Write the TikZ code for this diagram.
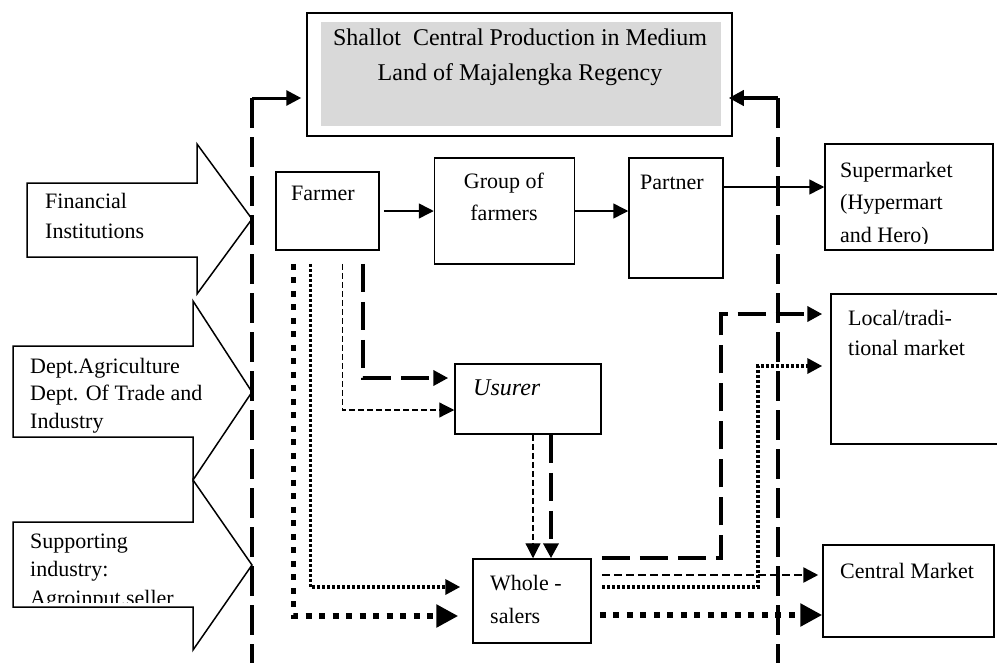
\documentclass[tikz,border=0pt]{standalone}
\usepackage{fontspec}
\setmainfont{Liberation Serif}
\usetikzlibrary{arrows.meta,positioning,calc}

\begin{document}
\begin{tikzpicture}[x=1pt, y=-1pt, font=\fontsize{22}{30}\selectfont, >={Triangle[length=15pt,width=15pt]}]
\tikzstyle{box}=[draw, line width=1.5pt, inner sep=0pt]
\tikzstyle{txt}=[inner sep=0pt, anchor=base west, align=left]
\tikzstyle{bound}=[line width=4pt, dash pattern=on 30pt off 9pt]
\tikzstyle{bigdash}=[line width=4pt, dash pattern=on 28pt off 10pt]
\tikzstyle{thindash}=[line width=1.2pt, dash pattern=on 6pt off 3pt]
\tikzstyle{meddash}=[line width=2.5pt, dash pattern=on 8pt off 4pt]
\tikzstyle{sqdot}=[line width=3.5pt, dash pattern=on 3pt off 2pt]
\tikzstyle{rnddot}=[line width=5.5pt, dash pattern=on 6pt off 7.5pt]
\tikzstyle{bigarrow}=[-{Triangle[length=22pt,width=22pt]}]
\useasboundingbox (0,0) rectangle (997,662);

% top box
\node[box, minimum width=425pt, minimum height=123pt] (prod) at (519.5,74.5) {};
\fill[black!15] ($(prod.north west)+(15,10)$) rectangle ($(prod.south east)+(-12,-11)$);
\node[txt, anchor=base, align=center, font=\fontsize{24}{35}\selectfont] (prodtxt) at (520,80) {Shallot\ \ Central Production in Medium\\Land of Majalengka Regency};

% actors
\node[box, minimum width=103pt, minimum height=78pt] (farmer) at (327.5,211) {};
\node[box, minimum width=140pt, minimum height=106pt, right=54pt of farmer] (group) {};
\node[box, minimum width=94pt, minimum height=120pt, right=53pt of group.north east, anchor=north west] (partner) {};
\node[box, minimum width=168pt, minimum height=106pt] (super) at (909,197) {};
\node[box, minimum width=179pt, minimum height=150pt] (local) at (920.5,369) {};
\node[box, minimum width=146pt, minimum height=70pt] (usurer) at (528,399) {};
\node[box, minimum width=118pt, minimum height=84pt] (whole) at (532,601) {};
\node[box, minimum width=171pt, minimum height=92pt] (central) at (908.5,591) {};

\node[txt, anchor=base] (farmertxt) at (323,200) {Farmer};
\node[txt, anchor=base, align=center, font=\fontsize{22}{32}\selectfont] (grouptxt) at (504,220) {Group of\\farmers};
\node[txt, anchor=base] (partnertxt) at (672,189) {Partner};
\begin{scope}
\clip (super.north west) rectangle (993,243);
\node[txt, font=\fontsize{22}{32.5}\selectfont] (supertxt) at (840,242) {Supermarket\\(Hypermart\\and Hero)};
\end{scope}
\node[txt] (localtxt) at (848,355) {Local/tradi-\\tional market};
\node[txt, font=\fontsize{24}{30}\selectfont\itshape] (usurertxt) at (473,395) {Usurer};
\node[txt, font=\fontsize{22}{33}\selectfont] (wholetxt) at (490,623) {Whole -\\salers};
\node[txt] (centraltxt) at (840,578) {Central Market};

% supporting institutions
\draw[line width=1.5pt] (27,183) -- (197,183) -- (197,144) -- (252,219) -- (197,294) -- (197,257) -- (27,257) -- cycle;
\draw[line width=1.5pt] (13,346) -- (193,346) -- (193,301) -- (252,392) -- (193,480) -- (193,437) -- (13,437) -- cycle;
\draw[line width=1.5pt] (13,522) -- (193,522) -- (193,480) -- (252,565) -- (193,650) -- (193,607) -- (13,607) -- cycle;
\node[txt] (fintxt) at (45,238) {Financial\\Institutions};
\begin{scope}
\clip (13,346) rectangle (235,433);
\node[txt, font=\fontsize{22}{27.5}\selectfont] (depttxt) at (30,428) {Dept.Agriculture\\Dept. Of Trade and\\Industry};
\end{scope}
\begin{scope}
\clip (13,522) rectangle (235,602);
\node[txt, font=\fontsize{22}{28.5}\selectfont] (supptxt) at (30,605) {Supporting\\industry:\\Agroinput.seller};
\end{scope}

% boundary of the central production
\coordinate (ltop) at (252,98);
\coordinate (lbot) at (252,670);
\coordinate (rtop) at (778,98);
\coordinate (rbot) at (778,670);
\draw[bound] (ltop) -- (lbot);
\draw[bound] (rtop) -- (rbot);
\draw[->, line width=3pt, shorten >=5pt] (ltop) -- (ltop -| prod.west);
\draw[->, line width=4pt, shorten >=-4pt] (rtop) -- (rtop -| prod.east);

% marketing channels
\coordinate (frnd) at ($(farmer.south west)+(18,13)$);
\coordinate (fsq) at ($(farmer.south west)+(35,13)$);
\coordinate (fthin) at ($(farmer.south west)+(67,13)$);
\coordinate (fbig) at ($(farmer.south west)+(88,13)$);
\draw[line width=1.5pt, ->, shorten <=4pt] (farmer.east) -- (farmer.east -| group.west);
\draw[line width=1.5pt, ->] (group.east) -- (group.east -| partner.west);
\draw[line width=1.5pt, ->] ([yshift=31pt]partner.east) coordinate (pe) -- (pe -| super.west);
\draw[bigdash, ->, shorten >=6pt] (fbig) |- ([yshift=21pt]usurer.west);
\draw[thindash, ->] (fthin) |- ([yshift=-11pt]usurer.west);
\draw[sqdot, ->, shorten >=12pt] (fsq) |- ([yshift=14pt]whole.west);
\draw[rnddot, bigarrow, shorten >=14pt] (frnd) |- ([yshift=-15pt]whole.west);
\draw[thindash, ->] ([xshift=5pt]usurer.south) coordinate (u1) -- (u1 |- whole.north);
\draw[bigdash, ->] ([xshift=23pt]usurer.south) coordinate (u2) -- (u2 |- whole.north);
\draw[bigdash, ->, shorten >=8pt] ($(whole.north east)+(10,0)$) -- ++(119,0) |- ([yshift=55pt]local.west);
\draw[meddash, ->, shorten >=4pt] ($(whole.east)+(10,-26)$) coordinate (w2) -- (w2 -| central.west);
\draw[sqdot, ->, shorten >=8pt] ($(whole.east)+(10,-14)$) -- ++(156,0) |- ([yshift=3pt]local.west);
\draw[rnddot, bigarrow] ($(whole.east)+(8,14)$) coordinate (w4) -- (w4 -| central.west);
\end{tikzpicture}
\end{document}
